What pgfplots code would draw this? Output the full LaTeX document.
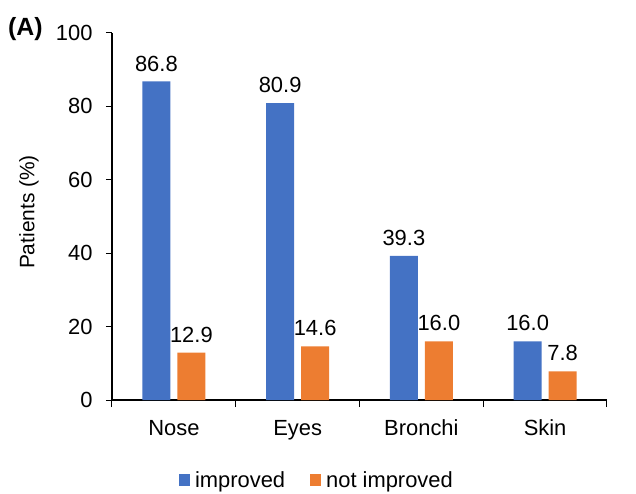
\documentclass[border=0pt]{standalone}
\usepackage{pgfplots}
\pgfplotsset{compat=1.18}
\usepackage{fontspec}
\setmainfont{Liberation Sans}
\definecolor{cblue}{HTML}{4472C4}
\definecolor{corange}{HTML}{ED7D31}
\begin{document}
\begin{tikzpicture}
\path[use as bounding box] (-112bp,-94bp) rectangle (524bp,400bp);
\begin{axis}[
  at={(0,0)}, anchor=south west,
  scale only axis, width=495bp, height=367bp,
  xmin=-0.5, xmax=3.5, ymin=0, ymax=100,
  axis x line*=bottom, axis y line*=left,
  axis line style={black, line width=1.1bp, -},
  xtick={0,1,2,3}, xticklabels={Nose,Eyes,Bronchi,Skin},
  minor xtick={-0.5,0.5,1.5,2.5,3.5},
  major x tick style={draw=none},
  minor x tick style={black, line width=1bp},
  minor tick length=7bp,
  ytick={0,20,40,60,80,100},
  y tick style={black, line width=1bp},
  major tick length=6bp,
  tick align=outside,
  ticklabel style={font=\fontsize{22}{24}\selectfont},
  /pgf/number format/assume math mode=true,
  xticklabel style={yshift=-10.5bp},
  yticklabel style={xshift=-10bp},
  ylabel={Patients (\%)},
  every axis y label/.style={at={(-83bp,188bp)}, rotate=90, anchor=center, font=\fontsize{21}{23}\selectfont},
  ybar, bar width=28bp,
  nodes near coords,
  every node near coord/.append style={font=\fontsize{22}{24}\selectfont, yshift=6.7bp},
  nodes near coords={\pgfmathprintnumber[fixed,fixed zerofill,precision=1]{\pgfplotspointmeta}},
  legend columns=2,
  legend style={draw=none, at={(0.414,-0.218)}, anchor=center,
    font=\fontsize{22}{24}\selectfont,
    /tikz/every odd column/.append style={column sep=3bp},
    /tikz/every even column/.append style={column sep=23bp}},
  legend image code/.code={\fill[#1] (0bp,-6bp) rectangle (11bp,6bp);},
]
\addplot[fill=cblue, draw=none, bar shift=-17.5bp] coordinates {(0,86.8) (1,80.9) (2,39.3) (3,16.0)};
\addplot[fill=corange, draw=none, bar shift=17.5bp] coordinates {(0,12.9) (1,14.6) (2,16.0) (3,7.8)};
\legend{improved, not improved}
\end{axis}
\node[anchor=center, font=\bfseries\fontsize{25}{27}\selectfont] at (-86.7bp,371bp) {(A)};
\end{tikzpicture}
\end{document}
